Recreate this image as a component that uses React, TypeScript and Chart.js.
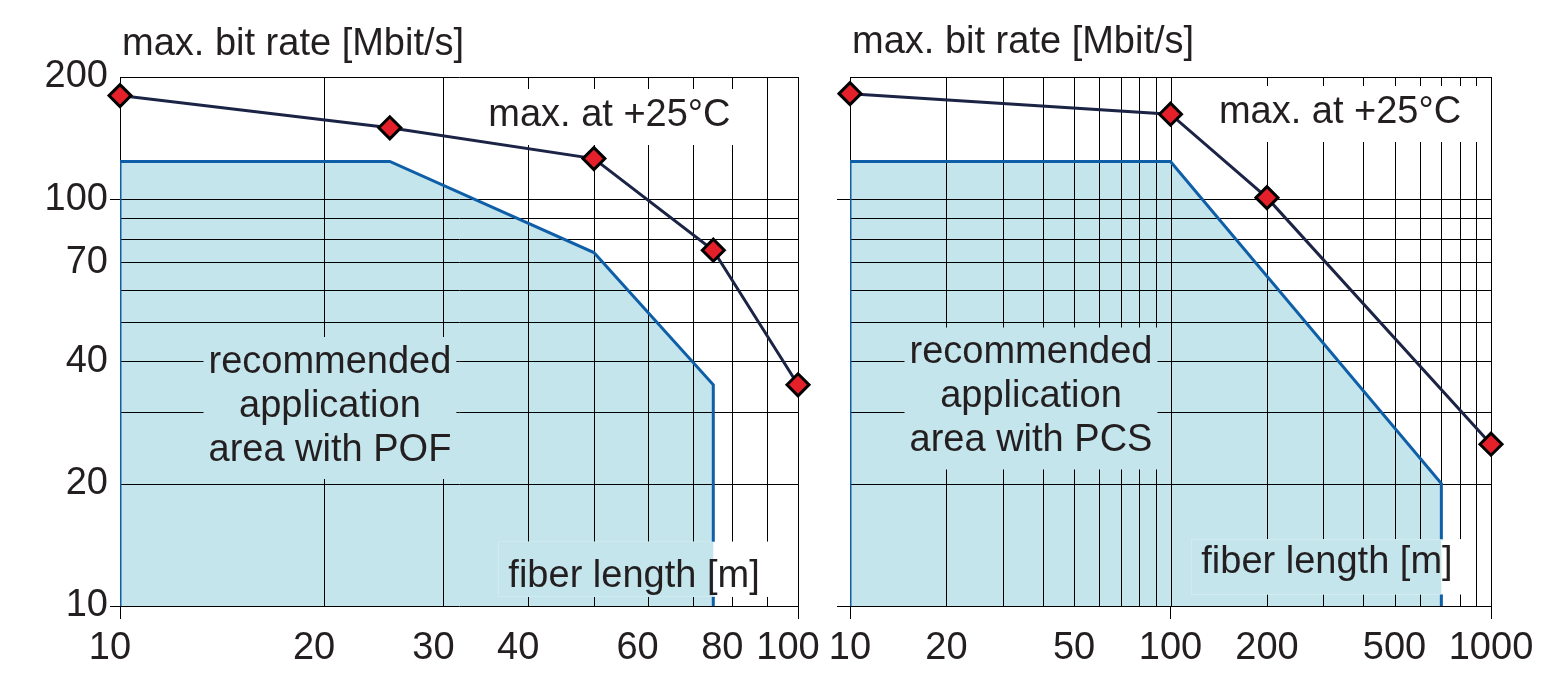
import React, { useEffect, useRef } from 'react';
import { Chart, registerables } from 'chart.js';

Chart.register(...registerables);

// ---- POF panel (left): fiber length [m] vs. max. bit rate [Mbit/s] ----
const POF_LENGTH_M = [10, 25, 50, 75, 100];
const POF_MAX_RATE = [180, 150, 126, 75, 35];
const POF_AREA_LENGTH = [10, 10, 25, 50, 75, 75];
const POF_AREA_RATE = [10, 124, 124, 74, 35, 10];
const POF_X_GRID = [10, 20, 30, 40, 50, 60, 70, 80, 90, 100];
const POF_X_LABELS = [10, 20, 30, 40, 60, 80, 100];

// ---- PCS panel (right) ----
const PCS_LENGTH_M = [10, 100, 200, 1000];
const PCS_MAX_RATE = [182, 162, 101, 25];
const PCS_AREA_LENGTH = [10, 10, 100, 700, 700];
const PCS_AREA_RATE = [10, 124, 124, 20, 10];
const PCS_X_GRID = [10, 20, 30, 40, 50, 60, 70, 80, 90, 100, 200, 300, 400, 500, 600, 700, 800, 900, 1000];
const PCS_X_LABELS = [10, 20, 50, 100, 200, 500, 1000];

// ---- shared bit-rate axis ----
const Y_GRID = [10, 20, 30, 40, 50, 60, 70, 80, 90, 100, 200];
const Y_LABELS = [10, 20, 40, 70, 100, 200];
const DECADES = [10, 100, 1000];

const Y_TITLE = 'max. bit rate [Mbit/s]';
const MAX_NOTE = 'max. at +25°C';
const X_TITLE = 'fiber length [m]';
const POF_AREA_TEXT = ['recommended', 'application', 'area with POF'];
const PCS_AREA_TEXT = ['recommended', 'application', 'area with PCS'];

const FONT_FAMILY = '"Liberation Sans", Arial, Helvetica, sans-serif';
const FONT_SIZE = 38;
const LINE_H = 44;
const TEXT_COLOR = '#231f20';
const GRID_COLOR = '#000000';
const AREA_FILL = '#c4e5ec';
const AREA_EDGE = '#0f5fa8';
const MAX_LINE = '#1c2446';
const MARKER_FILL = '#e4202a';
const MARKER_EDGE = '#000000';

type Note = {
  lines: string[];
  x: number; // centre, data units
  y: number; // baseline of first line, data units
  padX: number;
  above: number;
  below: number;
  cutAt?: number; // area edge inside the box
};

type Panel = {
  left: number;
  width: number;
  axisW: number;
  yTickLen: number;
  padRight: number;
  xMax: number;
  xGrid: number[];
  xLabels: number[];
  labelOffset: number;
  showYLabels: boolean;
  titleGap: number;
  maxX: number[];
  maxY: number[];
  areaX: number[];
  areaY: number[];
  notes: Note[];
};

const PANELS: Panel[] = [
  {
    left: 0,
    width: 860,
    axisW: 120,
    yTickLen: 10,
    padRight: 62,
    xMax: 100,
    xGrid: POF_X_GRID,
    xLabels: POF_X_LABELS,
    labelOffset: -10,
    showYLabels: true,
    titleGap: 22,
    maxX: POF_LENGTH_M,
    maxY: POF_MAX_RATE,
    areaX: POF_AREA_LENGTH,
    areaY: POF_AREA_RATE,
    notes: [
      { lines: [MAX_NOTE], x: 52.7, y: 151.6, padX: 10, above: 37, below: 19 },
      { lines: POF_AREA_TEXT, x: 20.4, y: 37.4, padX: 5, above: 36, below: 18 },
      { lines: [X_TITLE], x: 57.3, y: 11.15, padX: 10, above: 45, below: 10, cutAt: POF_AREA_LENGTH[POF_AREA_LENGTH.length - 1] },
    ],
  },
  {
    left: 790,
    width: 774,
    axisW: 60,
    yTickLen: 13,
    padRight: 73,
    xMax: 1000,
    xGrid: PCS_X_GRID,
    xLabels: PCS_X_LABELS,
    labelOffset: 0,
    showYLabels: false,
    titleGap: 24,
    maxX: PCS_LENGTH_M,
    maxY: PCS_MAX_RATE,
    areaX: PCS_AREA_LENGTH,
    areaY: PCS_AREA_RATE,
    notes: [
      { lines: [MAX_NOTE], x: 338, y: 154.1, padX: 16, above: 37, below: 19 },
      { lines: PCS_AREA_TEXT, x: 36.7, y: 39.5, padX: 5, above: 36, below: 18 },
      { lines: [X_TITLE], x: 307.7, y: 12.03, padX: 10, above: 34, below: 21, cutAt: PCS_AREA_LENGTH[PCS_AREA_LENGTH.length - 1] },
    ],
  },
];

const fontStr = `${FONT_SIZE}px ${FONT_FAMILY}`;

function noteBox(ctx: CanvasRenderingContext2D, n: Note, cx: number, by: number) {
  ctx.font = fontStr;
  const w = Math.max(...n.lines.map((t) => ctx.measureText(t).width));
  return {
    l: cx - w / 2 - n.padX,
    r: cx + w / 2 + n.padX,
    t: by - n.above,
    b: by + (n.lines.length - 1) * LINE_H + n.below,
  };
}

function panelDecor(p: Panel) {
  return {
    id: 'panelDecor',
    // grid goes over the area fill but under the curves; text boxes stay clear
    afterDatasetDraw(chart: any, args: any) {
      if (args.index !== 0) return;
      const { ctx, chartArea: a } = chart;
      const x = chart.scales.x;
      const y = chart.scales.y;
      ctx.save();
      ctx.beginPath();
      ctx.rect(0, 0, chart.width, chart.height);
      for (const n of p.notes) {
        const b = noteBox(ctx, n, x.getPixelForValue(n.x), y.getPixelForValue(n.y));
        ctx.rect(b.l, b.t, b.r - b.l, b.b - b.t);
      }
      ctx.clip('evenodd');
      ctx.strokeStyle = GRID_COLOR;
      ctx.lineWidth = 1;
      ctx.beginPath();
      for (const v of p.xGrid) {
        const px = Math.round(x.getPixelForValue(v)) + 0.5;
        ctx.moveTo(px, Math.round(a.top));
        ctx.lineTo(px, Math.round(a.bottom) + 1);
      }
      for (const v of Y_GRID) {
        const py = Math.round(y.getPixelForValue(v)) + 0.5;
        ctx.moveTo(Math.round(a.left), py);
        ctx.lineTo(Math.round(a.right) + 1, py);
      }
      ctx.stroke();
      ctx.restore();
    },
    afterDatasetsDraw(chart: any) {
      const { ctx, chartArea: a } = chart;
      const x = chart.scales.x;
      const y = chart.scales.y;
      ctx.save();
      for (const n of p.notes) {
        const cx = x.getPixelForValue(n.x);
        const by = y.getPixelForValue(n.y);
        if (n.cutAt !== undefined) {
          const b = noteBox(ctx, n, cx, by);
          const edge = x.getPixelForValue(n.cutAt);
          ctx.fillStyle = '#ffffff';
          ctx.fillRect(b.l, b.t, b.r - b.l, b.b - b.t);
          ctx.fillStyle = AREA_FILL;
          ctx.fillRect(b.l, b.t, Math.min(edge, b.r) - b.l, Math.min(b.b, a.bottom) - b.t);
        }
        ctx.font = fontStr;
        ctx.fillStyle = TEXT_COLOR;
        ctx.textAlign = 'center';
        ctx.textBaseline = 'alphabetic';
        n.lines.forEach((t, i) => ctx.fillText(t, cx, by + i * LINE_H));
      }
      ctx.font = fontStr;
      ctx.fillStyle = TEXT_COLOR;
      ctx.textAlign = 'left';
      ctx.textBaseline = 'alphabetic';
      ctx.fillText(Y_TITLE, a.left + 2, a.top - p.titleGap);
      ctx.restore();
    },
  };
}

function buildPanel(canvas: HTMLCanvasElement, p: Panel) {
  const font = { family: FONT_FAMILY, size: FONT_SIZE };
  const tickColor = (c: any) =>
    c.tick && DECADES.includes(c.tick.value) ? GRID_COLOR : 'rgba(0,0,0,0)';
  const area = p.areaX.map((v, i) => ({ x: v, y: p.areaY[i] }));
  const maxPts = p.maxX.map((v, i) => ({ x: v, y: p.maxY[i] }));

  return new Chart(canvas, {
    type: 'line',
    data: {
      datasets: [
        {
          data: area,
          fill: 'start',
          backgroundColor: AREA_FILL,
          borderColor: 'rgba(0,0,0,0)',
          borderWidth: 0,
          pointRadius: 0,
          order: 3,
        },
        {
          data: area,
          fill: false,
          borderColor: AREA_EDGE,
          borderWidth: 3,
          pointRadius: 0,
          order: 2,
        },
        {
          data: maxPts,
          fill: false,
          borderColor: MAX_LINE,
          borderWidth: 3,
          pointStyle: 'rectRot',
          pointRadius: 11,
          pointBackgroundColor: MARKER_FILL,
          pointBorderColor: MARKER_EDGE,
          pointBorderWidth: 3,
          clip: false,
          order: 1,
        },
      ],
    } as any,
    options: {
      animation: false,
      responsive: false,
      events: [],
      layout: { padding: { top: 77, right: p.padRight, left: 0, bottom: 0 } },
      plugins: {
        legend: { display: false },
        tooltip: { enabled: false },
        title: { display: false },
      },
      scales: {
        x: {
          type: 'logarithmic',
          min: 10,
          max: p.xMax,
          afterBuildTicks: (s: any) => {
            s.ticks = p.xGrid.map((v) => ({ value: v }));
          },
          afterFit: (s: any) => {
            s.height = 68;
          },
          border: { display: false },
          grid: {
            display: true,
            drawOnChartArea: false,
            drawTicks: true,
            tickLength: 13,
            tickWidth: 1,
            tickColor,
          },
          ticks: {
            autoSkip: false,
            maxRotation: 0,
            minRotation: 0,
            padding: 7,
            labelOffset: p.labelOffset,
            font,
            color: TEXT_COLOR,
            callback: (v: any) => (p.xLabels.includes(Number(v)) ? String(v) : ''),
          },
        },
        y: {
          type: 'logarithmic',
          min: 10,
          max: 200,
          afterBuildTicks: (s: any) => {
            s.ticks = Y_GRID.map((v) => ({ value: v }));
          },
          afterFit: (s: any) => {
            s.width = p.axisW;
          },
          border: { display: false },
          grid: {
            display: true,
            drawOnChartArea: false,
            drawTicks: true,
            tickLength: p.yTickLen,
            tickWidth: 1,
            tickColor,
          },
          ticks: {
            autoSkip: false,
            padding: 2,
            font,
            color: TEXT_COLOR,
            callback: (v: any) =>
              p.showYLabels && Y_LABELS.includes(Number(v)) ? String(v) : '',
          },
        },
      },
    } as any,
    plugins: [panelDecor(p)],
  });
}

export default function App() {
  const leftRef = useRef<HTMLCanvasElement>(null);
  const rightRef = useRef<HTMLCanvasElement>(null);

  useEffect(() => {
    const charts = [
      buildPanel(leftRef.current as HTMLCanvasElement, PANELS[0]),
      buildPanel(rightRef.current as HTMLCanvasElement, PANELS[1]),
    ];
    return () => charts.forEach((c) => c.destroy());
  }, []);

  return (
    <div
      style={{
        position: 'absolute',
        left: 0,
        top: 0,
        width: 1564,
        height: 674,
        background: '#ffffff',
        overflow: 'hidden',
      }}
    >
      <canvas
        ref={leftRef}
        width={PANELS[0].width}
        height={674}
        style={{ position: 'absolute', left: PANELS[0].left, top: 0 }}
      />
      <canvas
        ref={rightRef}
        width={PANELS[1].width}
        height={674}
        style={{ position: 'absolute', left: PANELS[1].left, top: 0 }}
      />
    </div>
  );
}
